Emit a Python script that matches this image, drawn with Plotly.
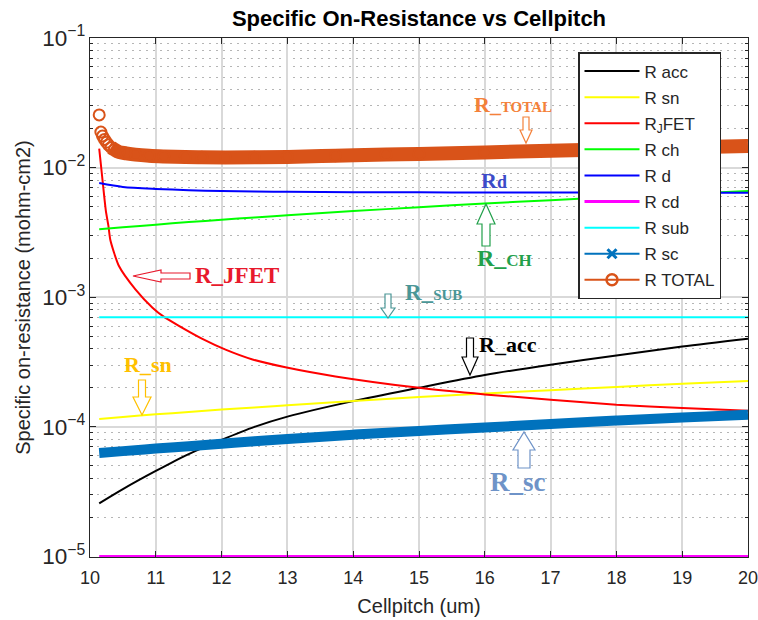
import plotly.graph_objects as go

# ---------------- data ----------------
cellpitch = [10.14, 10.5, 11, 11.5, 12, 12.5, 13, 14, 15, 16, 17, 18, 19, 20]
r_acc = [2.57e-5, 3.31e-5, 4.57e-5, 6.17e-5, 7.94e-5, 1.00e-4, 1.20e-4, 1.58e-4,
         2.00e-4, 2.51e-4, 3.02e-4, 3.55e-4, 4.17e-4, 4.79e-4]
r_sn = [1.15e-4, 1.19e-4, 1.25e-4, 1.30e-4, 1.36e-4, 1.41e-4, 1.47e-4, 1.58e-4,
        1.70e-4, 1.81e-4, 1.92e-4, 2.03e-4, 2.15e-4, 2.26e-4]
r_ch = [3.35e-3, 3.47e-3, 3.63e-3, 3.80e-3, 3.96e-3, 4.13e-3, 4.29e-3, 4.62e-3,
        4.95e-3, 5.28e-3, 5.61e-3, 5.94e-3, 6.27e-3, 6.60e-3]
r_d = [7.6e-3, 7.1e-3, 6.85e-3, 6.7e-3, 6.6e-3, 6.55e-3, 6.5e-3, 6.47e-3,
       6.45e-3, 6.43e-3, 6.42e-3, 6.41e-3, 6.40e-3, 6.40e-3]
r_cd = [1.0e-5, 1.0e-5, 1.0e-5, 1.0e-5, 1.0e-5, 1.0e-5, 1.0e-5, 1.0e-5,
        1.0e-5, 1.0e-5, 1.0e-5, 1.0e-5, 1.0e-5, 1.0e-5]
r_sub = [7.0e-4, 7.0e-4, 7.0e-4, 7.0e-4, 7.0e-4, 7.0e-4, 7.0e-4, 7.0e-4,
         7.0e-4, 7.0e-4, 7.0e-4, 7.0e-4, 7.0e-4, 7.0e-4]
r_sc = [6.29e-5, 6.5e-5, 6.8e-5, 7.1e-5, 7.4e-5, 7.75e-5, 8.05e-5, 8.7e-5,
        9.3e-5, 9.9e-5, 1.05e-4, 1.12e-4, 1.18e-4, 1.24e-4]

jfet_pitch = [10.14, 10.185, 10.24, 10.28, 10.31, 10.44, 10.69, 10.95, 11.12, 11.45,
              11.7, 12.06, 12.47, 12.97, 13.73, 15.0, 16.0, 17.0, 18.0, 19.0, 20.0]
r_jfet = [1.40e-2, 8.5e-3, 4.68e-3, 3.55e-3, 2.75e-3, 1.74e-3, 1.15e-3, 8.3e-4, 7.08e-4,
          5.62e-4, 4.79e-4, 3.94e-4, 3.31e-4, 2.88e-4, 2.45e-4, 2.0e-4, 1.78e-4,
          1.62e-4, 1.48e-4, 1.40e-4, 1.33e-4]

total_pitch = [10.14, 10.165, 10.19, 10.22, 10.25, 10.28, 10.32, 10.37, 10.44, 10.55,
               10.69, 10.9, 11.12, 11.45, 11.7, 12.06, 12.5, 13, 13.73, 14.5, 15, 16,
               17, 18, 19, 20]
r_total = [2.55e-2, 1.88e-2, 1.75e-2, 1.65e-2, 1.57e-2, 1.5e-2, 1.43e-2, 1.38e-2,
           1.32e-2, 1.29e-2, 1.26e-2, 1.235e-2, 1.22e-2, 1.205e-2, 1.2e-2, 1.195e-2,
           1.2e-2, 1.21e-2, 1.235e-2, 1.26e-2, 1.275e-2, 1.31e-2, 1.35e-2, 1.39e-2,
           1.43e-2, 1.465e-2]

x_ticks = [10, 11, 12, 13, 14, 15, 16, 17, 18, 19, 20]

# ---------------- styling ----------------
C_TOTAL = "#D95319"
C_SC = "#0072BD"
SANS = "Liberation Sans, Arial, Helvetica, sans-serif"
SERIF = "Liberation Serif, Times New Roman, serif"

fig = go.Figure()

def line(x, y, name, color, width=2, show=True, smooth=0.8):
    fig.add_trace(go.Scatter(x=x, y=y, mode="lines", name=name, showlegend=show,
                             legendgroup=name,
                             line=dict(color=color, width=width, shape="spline",
                                       smoothing=smooth)))

line(cellpitch, r_acc, "R acc", "#000000")
line(cellpitch, r_sn, "R sn", "#FFFF00")
line(jfet_pitch, r_jfet, "R<sub>J</sub>FET", "#FF0000", smooth=0.6)
line(cellpitch, r_ch, "R ch", "#00FF00")
line(cellpitch, r_d, "R d", "#0000FF")
line(cellpitch, r_cd, "R cd", "#FF00FF", width=3)
line(cellpitch, r_sub, "R sub", "#00FFFF")

# R sc: dense band of x markers in the original -> thick band + legend entry
fig.add_trace(go.Scatter(x=cellpitch, y=r_sc, mode="lines", showlegend=False,
                         legendgroup="sc",
                         line=dict(color=C_SC, width=10, shape="spline")))
fig.add_trace(go.Scatter(x=[None], y=[None], mode="lines+markers", name="R sc",
                         legendgroup="sc",
                         line=dict(color=C_SC, width=2),
                         marker=dict(symbol="x-thin", size=9, color=C_SC,
                                     line=dict(color=C_SC, width=3))))

# R TOTAL: dense circles -> thick band + open circles
band_x = [p for p in total_pitch if p >= 10.3]
band_y = [v for p, v in zip(total_pitch, r_total) if p >= 10.3]
fig.add_trace(go.Scatter(x=band_x, y=band_y, mode="lines", showlegend=False,
                         legendgroup="total",
                         line=dict(color=C_TOTAL, width=14, shape="spline")))
fig.add_trace(go.Scatter(x=total_pitch, y=r_total, mode="markers", showlegend=False,
                         legendgroup="total",
                         marker=dict(symbol="circle-open", size=11, color=C_TOTAL,
                                     line=dict(color=C_TOTAL, width=2))))
fig.add_trace(go.Scatter(x=[None], y=[None], mode="lines+markers", name="R TOTAL",
                         legendgroup="total",
                         line=dict(color=C_TOTAL, width=2),
                         marker=dict(symbol="circle-open", size=11, color=C_TOTAL,
                                     line=dict(color=C_TOTAL, width=2.5))))

# ---------------- layout helpers (pixel -> paper) ----------------
PL, PT, PW, PH = 90, 38, 658, 519

def px(x):
    return (x - PL) / PW

def py(y):
    return 1 - (y - PT) / PH

def arrow(tx, ty, d, ln, h, hw, sw, color):
    if d == "down":
        pts = [(tx - sw, ty - ln), (tx + sw, ty - ln), (tx + sw, ty - h), (tx + hw, ty - h),
               (tx, ty), (tx - hw, ty - h), (tx - sw, ty - h)]
    elif d == "up":
        pts = [(tx - sw, ty + ln), (tx + sw, ty + ln), (tx + sw, ty + h), (tx + hw, ty + h),
               (tx, ty), (tx - hw, ty + h), (tx - sw, ty + h)]
    else:  # left
        pts = [(tx + ln, ty - sw), (tx + ln, ty + sw), (tx + h, ty + sw), (tx + h, ty + hw),
               (tx, ty), (tx + h, ty - hw), (tx + h, ty - sw)]
    path = "M " + " L ".join(f"{px(a):.5f},{py(b):.5f}" for a, b in pts) + " Z"
    return dict(type="path", xref="paper", yref="paper", path=path,
                fillcolor="white", line=dict(color=color, width=1.2), layer="above")

shapes = [
    arrow(526, 143, "down", 26, 13, 6, 3, "#F4813A"),
    arrow(486, 204, "up", 42, 20, 9, 4, "#22A04B"),
    arrow(133, 276, "left", 57, 28, 6, 3, "#E8192C"),
    arrow(388, 318, "down", 24, 10, 7, 3, "#4A9696"),
    arrow(470, 375, "down", 37, 18, 8, 3.5, "#000000"),
    arrow(142, 415, "down", 35, 18, 9, 3.5, "#FFC000"),
    arrow(524, 432, "up", 36, 18, 11, 6, "#6E93C8"),
]

def label(cx, cy, text, color, size):
    return dict(xref="paper", yref="paper", x=px(cx), y=py(cy), text=text,
                showarrow=False, xanchor="center", yanchor="middle",
                font=dict(family=SERIF, size=size, color=color))

annotations = [
    label(513, 104, "<b>R_<span style='font-size:15px'>TOTAL</span></b>", "#F4813A", 22),
    label(494, 180, "<b>R<span style='font-size:18px'>d</span></b>", "#3C4BC8", 22),
    label(504, 258, "<b>R_<span style='font-size:17px'>CH</span></b>", "#22A04B", 24),
    label(237, 275, "<b>R_JFET</b>", "#E8192C", 23),
    label(433, 292, "<b>R_<span style='font-size:15px'>SUB</span></b>", "#4A9696", 23),
    label(508, 345, "<b>R_acc</b>", "#000000", 22),
    label(148, 364, "<b>R_sn</b>", "#FFC000", 22),
    label(518, 482, "<b>R_sc</b>", "#6E93C8", 27),
]

fig.update_layout(
    width=758, height=620,
    margin=dict(l=PL, r=758 - PL - PW, t=PT, b=620 - PT - PH, autoexpand=False),
    paper_bgcolor="white", plot_bgcolor="white",
    font=dict(family=SANS, color="#262626"),
    title=dict(text="<b>Specific On-Resistance vs Cellpitch</b>", x=0.5, xref="paper",
               y=1 - 18 / 620, yref="container", xanchor="center", yanchor="middle",
               font=dict(family=SANS, size=22, color="#000000")),
    showlegend=True,
    legend=dict(x=px(578), y=py(52), xanchor="left", yanchor="top",
                bgcolor="white", bordercolor="#262626", borderwidth=1.5,
                font=dict(family=SANS, size=17, color="#262626"),
                itemwidth=55, tracegroupgap=1, traceorder="grouped"),
    shapes=shapes,
    annotations=annotations,
)

fig.update_xaxes(
    range=[10, 20], tickvals=x_ticks, ticktext=[str(t) for t in x_ticks],
    ticklabeloverflow="allow", automargin=False,
    showgrid=True, gridcolor="#d9d9d9", gridwidth=1.5,
    showline=True, linecolor="#262626", linewidth=1.2, mirror="ticks",
    ticks="inside", ticklen=6, tickcolor="#262626", ticklabelstandoff=4,
    tickfont=dict(family=SANS, size=18, color="#262626"),
    title=dict(text="Cellpitch (um)", font=dict(family=SANS, size=20, color="#262626"),
               standoff=12),
    zeroline=False,
)
fig.update_yaxes(
    type="log", range=[-5.004, -1], dtick=1, exponentformat="power", automargin=False,
    showgrid=True, gridcolor="#d9d9d9", gridwidth=1.5,
    showline=True, linecolor="#262626", linewidth=1.2, mirror="ticks",
    ticks="inside", ticklen=6, tickcolor="#262626",
    tickfont=dict(family=SANS, size=18, color="#262626"),
    minor=dict(dtick="D1", ticks="inside", ticklen=3, tickcolor="#262626",
               showgrid=True, gridcolor="#b5b5b5", griddash="2px,5px", gridwidth=1),
    title=dict(text="Specific on-resistance (mohm-cm2)",
               font=dict(family=SANS, size=20, color="#262626"), standoff=6),
    zeroline=False,
)

fig.write_html("out.html")
